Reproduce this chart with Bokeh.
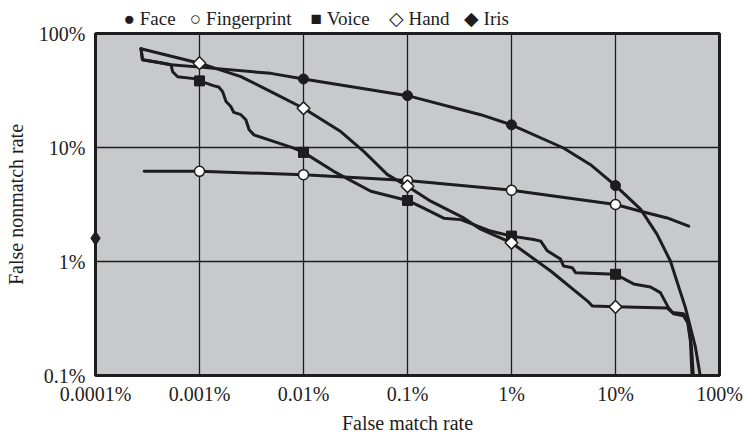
from bokeh.plotting import figure
from bokeh.models import Range1d, FixedTicker, CustomJSTickFormatter
from bokeh.embed import file_html
from bokeh.resources import INLINE

# ---------------- data (all values in percent) ----------------
x_ticks = [0.0001, 0.001, 0.01, 0.1, 1, 10, 100]
y_ticks = [0.1, 1, 10, 100]

face_x = [0.000274, 0.000283, 0.000426, 0.000531, 0.00101, 0.00485, 0.01, 0.1, 0.505, 1,
          3.16, 5.75, 10, 17.4, 25.1, 33.7, 47.0, 58.7, 65.6]
face_y = [73.5, 58.9, 55.4, 53.2, 50.7, 44.7, 39.9, 28.5, 19.4, 15.8,
          9.9, 7.07, 4.63, 2.88, 1.73, 1.01, 0.394, 0.177, 0.0965]

fp_x = [0.000294, 0.001, 0.01, 0.1, 1, 10, 17.4, 31.4, 50.6]
fp_y = [6.2, 6.18, 5.78, 5.13, 4.22, 3.16, 2.76, 2.41, 2.04]

voice_x = [0.000274, 0.000283, 0.000531, 0.000552, 0.000616, 0.000883, 0.001, 0.00138, 0.00153,
           0.00167, 0.0018, 0.002, 0.00214, 0.0025, 0.00279, 0.003, 0.00334, 0.00807, 0.01,
           0.0195, 0.0444, 0.059, 0.1, 0.143, 0.223, 0.325, 0.63, 1, 1.63, 1.91, 2.21, 2.96,
           3.16, 3.84, 4.13, 10, 14.9, 21.7, 27.0, 32.3, 36.1, 45.0, 50.2, 53.7, 56.1]
voice_y = [73.5, 58.9, 53.2, 46.2, 41.8, 40.2, 38.4, 34.7, 33.9,
           30.9, 25.3, 22.9, 20.3, 19.4, 17.5, 14.3, 12.9, 9.88, 9.06,
           6.18, 4.13, 3.87, 3.43, 2.94, 2.4, 2.33, 1.85, 1.67, 1.56, 1.51, 1.24, 1.05,
           0.914, 0.883, 0.798, 0.773, 0.636, 0.598, 0.533, 0.394, 0.348, 0.334, 0.284, 0.182, 0.098]

hand_x = [0.000274, 0.001, 0.0025, 0.00485, 0.01, 0.0228, 0.0379, 0.0641, 0.1, 0.167, 0.347,
          0.505, 1, 2.38, 5.35, 5.97, 10, 31.4, 35.3, 45.0, 49.2, 52.5, 54.5]
hand_y = [73.5, 54.9, 41.9, 30.9, 22.1, 13.8, 9.25, 5.78, 4.57, 3.38, 2.41,
          1.92, 1.46, 0.826, 0.452, 0.408, 0.40, 0.39, 0.357, 0.348, 0.302, 0.202, 0.098]

# marker points
face_mx = [0.01, 0.1, 1, 10]
face_my = [39.9, 28.5, 15.8, 4.63]
fp_mx = [0.001, 0.01, 0.1, 1, 10]
fp_my = [6.18, 5.78, 5.13, 4.22, 3.16]
voice_mx = [0.001, 0.01, 0.1, 1, 10]
voice_my = [38.4, 9.06, 3.43, 1.67, 0.773]
hand_mx = [0.001, 0.01, 0.1, 1, 10]
hand_my = [54.9, 22.1, 4.57, 1.46, 0.40]
iris_x = [0.0001]
iris_y = [1.6]

legend_symbols = ["\u25cf", "\u25cb", "\u25a0", "\u25c7", "\u25c6"]
legend_labels = ["Face", "Fingerprint", "Voice", "Hand", "Iris"]
legend_gaps = [3, 4, 4, 3]   # non-breaking spaces after each entry

# ---------------- styling ----------------
INK = "#1e1c1c"
BG = "#c8c9cb"
FONT = "Liberation Serif"
NB = "\u00a0"

p = figure(width=744, height=436, x_axis_type="log", y_axis_type="log",
           x_range=Range1d(0.0001, 100), y_range=Range1d(0.1, 100),
           output_backend="svg", toolbar_location=None,
           min_border_left=95, min_border_right=25, min_border_top=32, min_border_bottom=61)
p.background_fill_color = BG
p.border_fill_color = "white"
p.outline_line_color = INK
p.outline_line_width = 3

# legend line above the plot (symbol + label pairs)
entries = [s + NB + t for s, t in zip(legend_symbols, legend_labels)]
legend_text = entries[0]
for gap, entry in zip(legend_gaps, entries[1:]):
    legend_text += NB * gap + entry
p.title.text = legend_text
p.title.align = "left"
p.title.offset = 28
p.title.standoff = 10
p.title.text_font = FONT
p.title.text_font_size = "19px"
p.title.text_font_style = "normal"
p.title.text_color = INK

xt = FixedTicker(ticks=x_ticks)
yt = FixedTicker(ticks=y_ticks)
p.xaxis[0].ticker = xt
p.yaxis[0].ticker = yt
p.xgrid[0].ticker = xt
p.ygrid[0].ticker = yt
for g in (p.xgrid[0], p.ygrid[0]):
    g.grid_line_color = INK
    g.grid_line_width = 1.3
    g.minor_grid_line_color = None

fmt = CustomJSTickFormatter(code="return tick.toString() + '%';")
for ax in (p.xaxis[0], p.yaxis[0]):
    ax.formatter = fmt
    ax.axis_line_color = None
    ax.major_tick_line_color = None
    ax.minor_tick_line_color = None
    ax.major_tick_in = 0
    ax.major_tick_out = 0
    ax.minor_tick_in = 0
    ax.minor_tick_out = 0
    ax.major_label_text_font = FONT
    ax.major_label_text_font_size = "20px"
    ax.major_label_text_color = INK
    ax.axis_label_text_font = FONT
    ax.axis_label_text_font_size = "20px"
    ax.axis_label_text_font_style = "normal"
    ax.axis_label_text_color = INK

p.xaxis.axis_label = "False match rate"
p.yaxis.axis_label = "False nonmatch rate"
p.xaxis.major_label_standoff = 7
p.xaxis.axis_label_standoff = 4
p.yaxis.major_label_standoff = 10
p.yaxis.axis_label_standoff = 9

# curves
for xs, ys in ((face_x, face_y), (fp_x, fp_y), (voice_x, voice_y), (hand_x, hand_y)):
    p.line(xs, ys, line_width=3, line_color=INK, line_join="round", line_cap="round")

# markers
p.scatter(face_mx, face_my, marker="circle", size=10, fill_color=INK, line_color=INK)
p.scatter(fp_mx, fp_my, marker="circle", size=10, fill_color="white",
          line_color=INK, line_width=1.5)
p.scatter(voice_mx, voice_my, marker="square", size=10, fill_color=INK, line_color=INK)
p.scatter(hand_mx, hand_my, marker="square", angle=0.7854, size=9, fill_color="white",
          line_color=INK, line_width=1.5)
p.scatter(iris_x, iris_y, marker="diamond", size=14, fill_color=INK,
          line_color=INK, level="overlay")

open("out.html", "w").write(file_html(p, INLINE))
